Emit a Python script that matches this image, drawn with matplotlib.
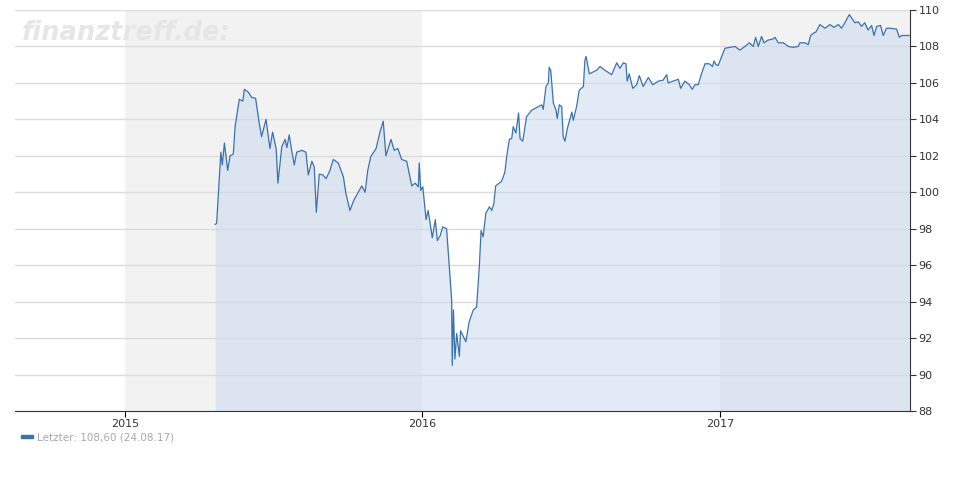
import matplotlib
matplotlib.use('Agg')
import matplotlib.pyplot as plt

# decimal years and prices
t_off = [
    0.303, 0.308, 0.322, 0.327, 0.334, 0.345, 0.353, 0.364, 0.370, 0.384,
    0.396, 0.401, 0.414, 0.426, 0.439, 0.451, 0.459, 0.474, 0.487, 0.496,
    0.508, 0.514, 0.527, 0.538, 0.544, 0.552, 0.560, 0.569, 0.577, 0.594,
    0.608, 0.616, 0.628, 0.636, 0.643, 0.653, 0.665, 0.676, 0.689, 0.700,
    0.717, 0.734, 0.742, 0.756, 0.770, 0.779, 0.796, 0.807, 0.816, 0.826,
    0.844, 0.857, 0.868, 0.877, 0.894, 0.905, 0.917, 0.930, 0.947, 0.964,
    0.975, 0.986, 0.989, 0.994, 1.001, 1.012, 1.019, 1.033, 1.043, 1.050,
    1.059, 1.068, 1.081, 1.090, 1.098, 1.100, 1.104, 1.109, 1.115, 1.124,
    1.128, 1.137, 1.146, 1.157, 1.171, 1.182, 1.191, 1.197, 1.204, 1.213,
    1.225, 1.233, 1.240, 1.246, 1.266, 1.277, 1.283, 1.292, 1.300, 1.305,
    1.314, 1.323, 1.328, 1.337, 1.350, 1.367, 1.384, 1.401, 1.406, 1.415,
    1.423, 1.426, 1.431, 1.440, 1.449, 1.453, 1.460, 1.468, 1.473, 1.479,
    1.487, 1.502, 1.507, 1.518, 1.527, 1.541, 1.546, 1.550, 1.561, 1.574,
    1.586, 1.597, 1.613, 1.636, 1.653, 1.664, 1.675, 1.684, 1.688, 1.695,
    1.707, 1.720, 1.729, 1.742, 1.759, 1.774, 1.793, 1.809, 1.821, 1.826,
    1.843, 1.860, 1.868, 1.882, 1.897, 1.907, 1.916, 1.927, 1.938, 1.950,
    1.964, 1.975, 1.980, 1.987, 1.994, 2.006, 2.017, 2.034, 2.050, 2.067,
    2.084, 2.099, 2.112, 2.120, 2.129, 2.140, 2.148, 2.162, 2.177, 2.185,
    2.196, 2.213, 2.230, 2.246, 2.263, 2.269, 2.286, 2.297, 2.305, 2.312,
    2.323, 2.336, 2.353, 2.370, 2.383, 2.398, 2.409, 2.420, 2.435, 2.443,
    2.454, 2.465, 2.476, 2.487, 2.498, 2.510, 2.518, 2.527, 2.540, 2.549,
    2.560, 2.571, 2.594, 2.603, 2.611, 2.636,
]
dates = [2015 + t for t in t_off]
prices = [
    98.24, 98.3, 102.2, 101.5, 102.7, 101.2, 102.0, 102.1, 103.6, 105.1,
    105.0, 105.65, 105.5, 105.2, 105.15, 103.8, 103.05, 104.0, 102.4, 103.3,
    102.4, 100.5, 102.5, 102.9, 102.45, 103.15, 102.3, 101.5, 102.2, 102.3,
    102.2, 100.95, 101.7, 101.4, 98.9, 101.0, 100.95, 100.75, 101.2, 101.8,
    101.6, 100.85, 99.98, 99.0, 99.6, 99.85, 100.35, 100.0, 101.2, 101.95,
    102.4, 103.3, 103.9, 102.0, 102.9, 102.3, 102.4, 101.8, 101.7, 100.35,
    100.5, 100.3, 101.6, 100.1, 100.3, 98.5, 99.0, 97.5, 98.5, 97.35,
    97.6, 98.1, 98.0, 95.9, 94.1, 90.5, 93.55, 90.85, 92.25, 91.0,
    92.4, 92.1, 91.8, 92.9, 93.55, 93.7, 95.9, 97.9, 97.55, 98.85,
    99.2, 99.0, 99.4, 100.35, 100.6, 101.1, 101.95, 102.9, 102.95, 103.6,
    103.25, 104.35, 102.95, 102.8, 104.15, 104.5, 104.65, 104.8, 104.55, 105.8,
    106.0, 106.85, 106.7, 104.9, 104.5, 104.05, 104.8, 104.7, 103.05, 102.8,
    103.5, 104.4, 103.95, 104.7, 105.6, 105.8, 107.25, 107.45, 106.5, 106.6,
    106.7, 106.9, 106.7, 106.45, 107.1, 106.8, 107.1, 107.05, 106.1, 106.5,
    105.7, 105.9, 106.4, 105.8, 106.3, 105.9, 106.1, 106.15, 106.45, 106.0,
    106.1, 106.2, 105.7, 106.1, 105.9, 105.65, 105.9, 105.9, 106.5, 107.05,
    107.05, 106.9, 107.2, 107.0, 106.95, 107.45, 107.9, 107.95, 108.0, 107.8,
    108.0, 108.2, 108.0, 108.5, 108.0, 108.55, 108.2, 108.35, 108.4, 108.5,
    108.2, 108.2, 108.0, 107.95, 108.0, 108.2, 108.2, 108.1, 108.6, 108.7,
    108.8, 109.2, 109.0, 109.2, 109.05, 109.2, 109.0, 109.3, 109.75, 109.55,
    109.3, 109.35, 109.1, 109.3, 108.9, 109.15, 108.6, 109.1, 109.15, 108.6,
    109.0, 109.0, 108.95, 108.5, 108.6, 108.6,
]
year_ticks = [2015, 2016, 2017]
y_ticks = [88, 90, 92, 94, 96, 98, 100, 102, 104, 106, 108, 110]
x_min, x_max = 2014.63, 2017.639

fig = plt.figure(figsize=(9.7, 5), dpi=100)
ax = fig.add_axes([15 / 970, 1 - 411 / 500, 895 / 970, 401 / 500])

# alternating year bands
ax.axvspan(2015, 2016, color='#f2f2f2', zorder=0, lw=0)
ax.axvspan(2017, x_max, color='#f2f2f2', zorder=0, lw=0)

for y in y_ticks[1:]:
    ax.axhline(y, color='#dcdcdc', lw=1, zorder=1)

ax.fill_between(dates, prices, 88, color='#c9daee', alpha=0.55, lw=0, zorder=2)
ax.plot(dates, prices, color='#3a72b0', lw=0.9, zorder=3)

ax.set_xlim(x_min, x_max)
ax.set_ylim(88, 110)
ax.set_xticks(year_ticks)
ax.set_xticklabels([str(y) for y in year_ticks], fontsize=8, color='#333333')
ax.set_yticks(y_ticks)
ax.yaxis.tick_right()
ax.tick_params(axis='y', length=4, labelsize=8, colors='#333333', pad=2)
ax.tick_params(axis='x', length=4, pad=2)
for s in ['top', 'left']:
    ax.spines[s].set_visible(False)
ax.spines['right'].set_color('#333333')
ax.spines['bottom'].set_color('#333333')

ax.text(0.008, 0.975, 'finanztreff.de:', transform=ax.transAxes, fontsize=18.5,
        fontstyle='italic', fontweight='bold', color='#e6e6e6', va='top', ha='left',
        zorder=4)

fig.patches.append(plt.Rectangle((21 / 970, 1 - 438 / 500), 12 / 970, 3 / 500,
                                 transform=fig.transFigure, color='#3a72b0'))
fig.text(37 / 970, 1 - 437.5 / 500, 'Letzter: 108,60 (24.08.17)', fontsize=7.5,
         color='#aaaaaa', va='center')

fig.savefig('out.png', dpi=100)
